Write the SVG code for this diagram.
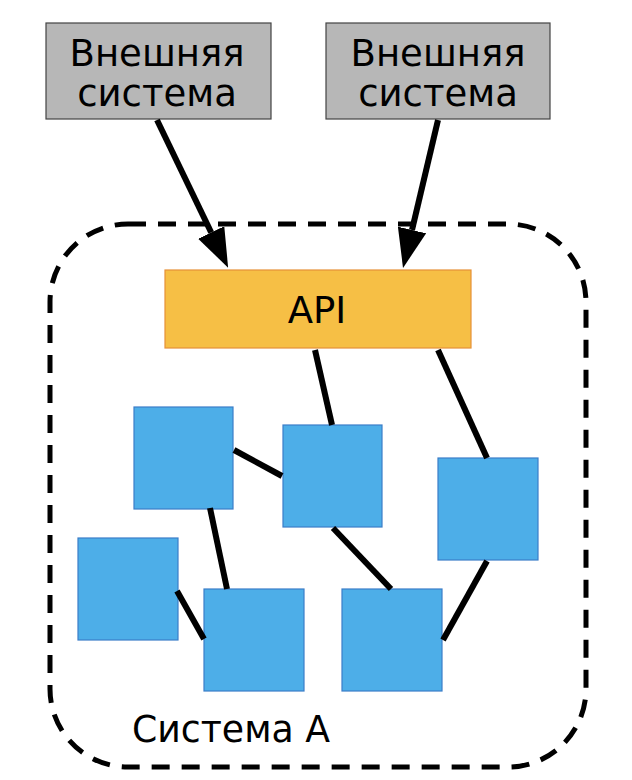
<svg xmlns="http://www.w3.org/2000/svg" width="632" height="780" viewBox="0 0 632 780">
  <style>
    .ext { fill: #b7b7b7; stroke: #434343; stroke-width: 1.2; }
    .api { fill: #f6bf45; stroke: #e69138; stroke-width: 1.2; }
    .comp { fill: #4daee8; stroke: #3b7dc8; stroke-width: 1.2; }
    .lbl { font-family: "DejaVu Sans", "Liberation Sans", sans-serif; font-size: 37px; fill: #000000; text-anchor: middle; }
    .edge { stroke: #000000; stroke-width: 6; fill: none; }
    .boundary { fill: none; stroke: #000000; stroke-width: 5; stroke-dasharray: 18 12; }
  </style>
  <defs>
    <marker id="arrow" viewBox="0 0 39 29" refX="0" refY="14.5" markerWidth="39" markerHeight="29" markerUnits="userSpaceOnUse" orient="auto">
      <path d="M0,0 L39,14.5 L0,29 Z" fill="#000000"/>
    </marker>
  </defs>

  <g id="system-a">
    <rect class="boundary" x="50" y="224" width="536" height="543" rx="78" ry="78"/>
    <text class="lbl" x="231" y="742" text-anchor="middle" textLength="198" lengthAdjust="spacingAndGlyphs">Система А</text>
  </g>

  <g id="external-1">
    <rect class="ext" x="46" y="23" width="225" height="96"/>
    <text class="lbl" x="157" y="65.5">Внешняя</text>
    <text class="lbl" x="157" y="105.5">система</text>
  </g>

  <g id="external-2">
    <rect class="ext" x="326" y="23" width="224" height="96"/>
    <text class="lbl" x="438" y="65.5">Внешняя</text>
    <text class="lbl" x="438" y="105.5">система</text>
  </g>

  <g id="api">
    <rect class="api" x="165" y="270" width="306" height="78"/>
    <text class="lbl" x="317" y="323">API</text>
  </g>

  <g id="comp-1"><rect class="comp" x="134" y="407" width="99" height="102"/></g>
  <g id="comp-2"><rect class="comp" x="283" y="425" width="99" height="102"/></g>
  <g id="comp-3"><rect class="comp" x="78" y="538" width="100" height="102"/></g>
  <g id="comp-4"><rect class="comp" x="204" y="589" width="100" height="102"/></g>
  <g id="comp-5"><rect class="comp" x="342" y="589" width="100" height="102"/></g>
  <g id="comp-6"><rect class="comp" x="438" y="458" width="100" height="102"/></g>

  <g id="connectors">
    <line class="edge" x1="157" y1="120" x2="211.2" y2="232.5" marker-end="url(#arrow)"/>
    <line class="edge" x1="438" y1="120" x2="412" y2="230" marker-end="url(#arrow)"/>
    <line class="edge" x1="315" y1="350" x2="332" y2="425"/>
    <line class="edge" x1="438" y1="350" x2="487" y2="458"/>
    <line class="edge" x1="234" y1="450" x2="282" y2="476"/>
    <line class="edge" x1="210" y1="508" x2="227" y2="589"/>
    <line class="edge" x1="177" y1="591" x2="204" y2="639"/>
    <line class="edge" x1="333" y1="528" x2="391" y2="589"/>
    <line class="edge" x1="487" y1="561" x2="443" y2="640"/>
  </g>
</svg>
